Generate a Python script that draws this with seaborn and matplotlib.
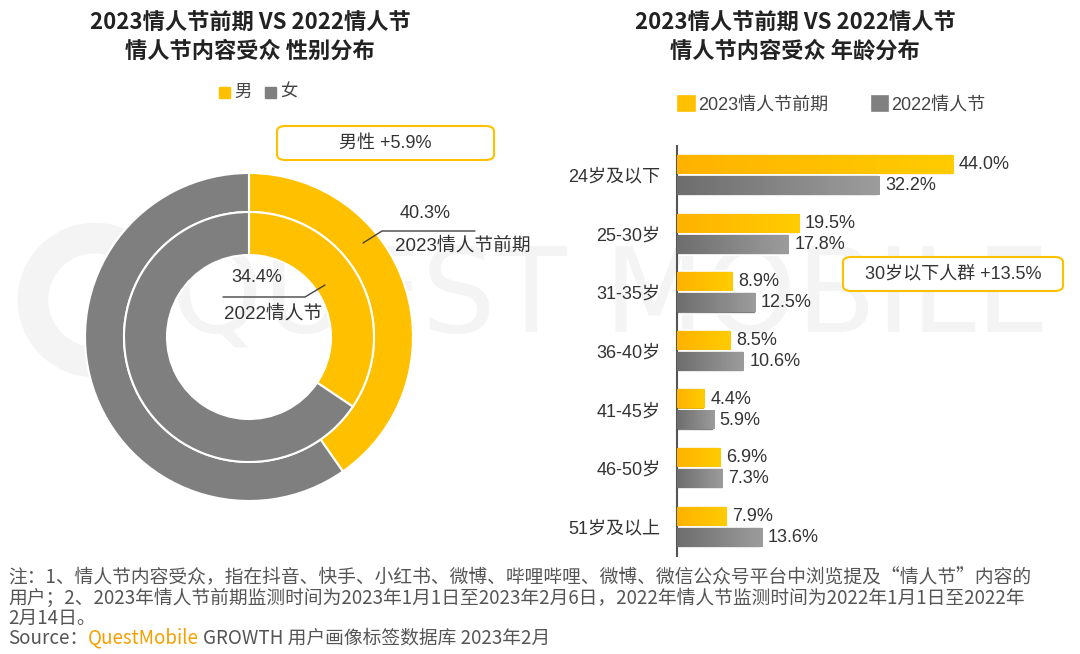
import numpy as np
import pandas as pd
import seaborn as sns
import matplotlib.pyplot as plt
from matplotlib.patches import FancyBboxPatch, Rectangle, Circle
from matplotlib.colors import LinearSegmentedColormap

#%% 数据
gender_labels = ['男', '女']
male_2023 = 40.3
male_2022 = 34.4

age_groups = ['24岁及以下', '25-30岁', '31-35岁', '36-40岁', '41-45岁', '46-50岁', '51岁及以上']
age_2023 = [44.0, 19.5, 8.9, 8.5, 4.4, 6.9, 7.9]
age_2022 = [32.2, 17.8, 12.5, 10.6, 5.9, 7.3, 13.6]
series_names = ['2023情人节前期', '2022情人节']

notes = ['注：1、情人节内容受众，指在抖音、快手、小红书、微博、哔哩哔哩、微博、微信公众号平台中浏览提及“情人节”内容的',
         '用户；2、2023年情人节前期监测时间为2023年1月1日至2023年2月6日，2022年情人节监测时间为2022年1月1日至2022年',
         '2月14日。']

#%% 样式
sns.set_theme(style='white')
plt.rcParams['font.family'] = ['Noto Sans CJK SC', 'DejaVu Sans']
MIX = ['Liberation Sans', 'Noto Sans CJK SC']  # 数字用类Arial字体
YELLOW = '#FFC000'
GRAY = '#7F7F7F'
TXT = '#333333'

W, H = 1080, 654
fig = plt.figure(figsize=(W / 100, H / 100), dpi=100)


def fx(x):
    return x / W


def fy(y):
    return 1 - y / H


# 水印（放在最底层）
ax_bg = fig.add_axes([0, 0, 1, 1], zorder=-1)
ax_bg.set_xlim(0, W)
ax_bg.set_ylim(H, 0)
ax_bg.axis('off')
ax_bg.add_patch(Circle((95, 300), 62, fill=False, lw=22, edgecolor='#f4f4f4'))
ax_bg.text(610, 300, 'QUEST MOBILE', ha='center', va='center', fontsize=84,
           color='#f4f4f4', family='DejaVu Sans')

# 标题
for cx, sub in [(250, '情人节内容受众 性别分布'), (795, '情人节内容受众 年龄分布')]:
    fig.text(fx(cx), fy(22), '2023情人节前期 VS 2022情人节', ha='center', va='center',
             fontsize=16, fontweight='bold', color='#222222')
    fig.text(fx(cx), fy(51), sub, ha='center', va='center',
             fontsize=16, fontweight='bold', color='#222222')

#%% 左图：环形图
cx, cy, R = 249, 337, 172
ax_pie = fig.add_axes([fx(cx - R), fy(cy + R), 2 * R / W, 2 * R / H])
ax_pie.pie([male_2023, 100 - male_2023], radius=164, colors=[YELLOW, GRAY], startangle=90,
           counterclock=False, wedgeprops=dict(width=39, edgecolor='white', linewidth=1.5))
ax_pie.pie([male_2022, 100 - male_2022], radius=125, colors=[YELLOW, GRAY], startangle=90,
           counterclock=False, wedgeprops=dict(width=43, edgecolor='white', linewidth=1.5))
ax_pie.set_xlim(-R, R)
ax_pie.set_ylim(-R, R)
ax_pie.set_aspect('equal')
ax_pie.axis('off')

ax_pie.plot([114, 133, 226], [94, 106, 106], color='#444444', lw=1, clip_on=False)
ax_pie.text(176, 124, f'{male_2023:.1f}%', ha='center', va='center', fontsize=13,
            color=TXT, family=MIX, clip_on=False)
ax_pie.text(146, 91, series_names[0], ha='left', va='center', fontsize=13.5, color=TXT,
            clip_on=False, family=MIX)
ax_pie.plot([-26, 56, 76], [40, 40, 52], color='#444444', lw=1)
ax_pie.text(8, 59, f'{male_2022:.1f}%', ha='center', va='center', fontsize=13,
            color=TXT, family=MIX)
ax_pie.text(24, 23, series_names[1], ha='center', va='center', fontsize=13.5, color=TXT,
            family=MIX)

# 左图例
for x0, col, lab in [(219, YELLOW, gender_labels[0]), (265, GRAY, gender_labels[1])]:
    fig.patches.append(Rectangle((fx(x0), fy(98)), 11 / W, 11 / H, color=col,
                                 transform=fig.transFigure, figure=fig))
    fig.text(fx(x0 + 15), fy(92), lab, ha='left', va='center', fontsize=12.5, color='#444444')


def note_box(x0, y0, x1, y1, text):
    fig.patches.append(FancyBboxPatch((fx(x0), fy(y1)), (x1 - x0) / W, (y1 - y0) / H,
                                      boxstyle='round,pad=0,rounding_size=0.008',
                                      facecolor='white', edgecolor=YELLOW, linewidth=1.5,
                                      transform=fig.transFigure, figure=fig, zorder=3))
    fig.text(fx((x0 + x1) / 2), fy((y0 + y1) / 2), text, ha='center', va='center',
             fontsize=13, color=TXT, zorder=4, family=MIX)


note_box(277, 126, 494, 160, '男性 +5.9%')

#%% 右图：条形图
df = pd.DataFrame({
    'age': age_groups * 2,
    'value': age_2023 + age_2022,
    'series': [series_names[0]] * len(age_groups) + [series_names[1]] * len(age_groups),
})
top, bottom = 146, 556
ax_bar = fig.add_axes([fx(677), fy(bottom), (1010 - 677) / W, (bottom - top) / H])
ax_bar.patch.set_alpha(0)
sns.barplot(data=df, y='age', x='value', hue='series', orient='h', ax=ax_bar,
            palette=[YELLOW, GRAY], width=0.72, linewidth=1.2, edgecolor='white', zorder=2)

# 渐变填充
grads = [('#FFB300', '#FFCC00'), ('#6E6E6E', '#9C9C9C')]
for cont, (c0, c1) in zip(ax_bar.containers, grads):
    cmap = LinearSegmentedColormap.from_list('g', [c0, c1])
    for bar in cont:
        x0, y0 = bar.get_x(), bar.get_y()
        w, h = bar.get_width(), bar.get_height()
        img = ax_bar.imshow(np.linspace(0, 1, 64).reshape(1, -1), cmap=cmap, aspect='auto',
                            extent=(x0, x0 + w, y0 + h - 0.02, y0 + 0.02), zorder=3)
        img.set_clip_path(bar)
    ax_bar.bar_label(cont, labels=[f'{v:.1f}%' for v in cont.datavalues], padding=4,
                     fontsize=13, color=TXT, family=MIX)
ax_bar.set_xlim(0, 53)
ax_bar.set_ylim(6.5, -0.5)

ax_bar.set_xlabel('')
ax_bar.set_ylabel('')
ax_bar.set_xticks([])
ax_bar.tick_params(axis='y', length=0, pad=12, labelsize=13, labelcolor=TXT)
for lab in ax_bar.get_yticklabels():
    lab.set_family(MIX)
for s in ['top', 'right', 'bottom']:
    ax_bar.spines[s].set_visible(False)
ax_bar.spines['left'].set_color('#555555')
ax_bar.spines['left'].set_linewidth(1.5)

sns.move_legend(ax_bar, loc='center left', bbox_to_anchor=(fx(662), fy(105)),
                bbox_transform=fig.transFigure, ncol=2, frameon=False, title=None,
                handlelength=0.9, handleheight=0.9, handletextpad=0.2,
                columnspacing=2.4, labelcolor='#444444',
                prop={'family': MIX, 'size': 13})
for hdl, col in zip(ax_bar.get_legend().legend_handles, ['#FFC000', '#808080']):
    hdl.set_facecolor(col)
    hdl.set_edgecolor(col)

note_box(843, 257, 1063, 291, '30岁以下人群 +13.5%')

#%% 注释
FN = 13.5
for i, line in enumerate(notes):
    fig.text(fx(8), fy(578 + i * 20), line, ha='left', va='center', fontsize=FN, color='#555555')
t1 = fig.text(fx(8), fy(638), 'Source：', ha='left', va='center', fontsize=FN, color='#555555')
fig.canvas.draw()
bb = t1.get_window_extent()
t2 = fig.text(bb.x1 / W, fy(638), 'QuestMobile', ha='left', va='center', fontsize=FN,
              color='#F5A000')
fig.canvas.draw()
bb2 = t2.get_window_extent()
fig.text(bb2.x1 / W + 0.004, fy(638), 'GROWTH 用户画像标签数据库 2023年2月', ha='left', va='center',
         fontsize=FN, color='#555555')

fig.savefig('out.png', dpi=100, facecolor='white')
